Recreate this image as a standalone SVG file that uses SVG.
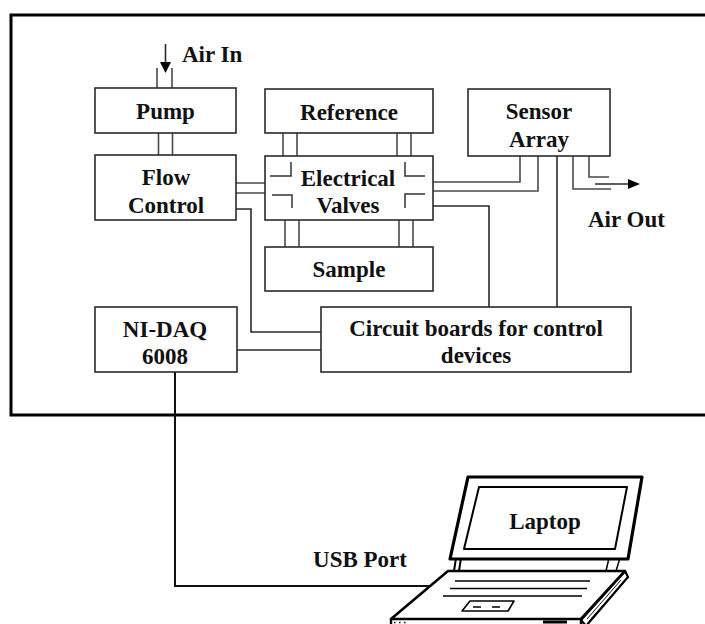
<svg xmlns="http://www.w3.org/2000/svg" width="705" height="624" viewBox="0 0 705 624">
  <style>
    .box { fill: #ffffff; stroke: #2a2a2a; stroke-width: 1.6; }
    .lbl { font-family: "Liberation Serif", "Times New Roman", serif; font-weight: bold; font-size: 23px; fill: #111111; text-anchor: middle; }
    .lbl-start { text-anchor: start; }
    .lbl-end { text-anchor: end; }
    .pipe { fill: none; stroke: #4a4a4a; stroke-width: 1.6; }
    .wire { fill: none; stroke: #2a2a2a; stroke-width: 1.6; }
    .mark { fill: none; stroke: #333333; stroke-width: 1.5; }
    .lap { fill: #ffffff; stroke: #000000; stroke-linejoin: round; }
  </style>

  <!-- enclosure outline (continues past the right edge) -->
  <rect id="enclosure" x="11" y="15" width="720" height="400" fill="none" stroke="#000000" stroke-width="3"/>

  <!-- pipes and signal wires -->
  <g id="connectors">
    <!-- air inlet -->
    <line class="wire" x1="165.5" y1="44" x2="165.5" y2="63"/>
    <polygon points="160,62 171,62 165.5,73" fill="#000000"/>
    <path class="pipe" d="M157,68 V88 M172,68 V88"/>
    <!-- pump to flow control -->
    <path class="pipe" d="M158.5,133 V155 M172.5,133 V155"/>
    <!-- flow control to valves -->
    <path class="pipe" d="M236,183 H265 M236,193 H265"/>
    <!-- reference to valves -->
    <path class="pipe" d="M283,133 V156 M297,133 V156 M397,133 V156 M411,133 V156"/>
    <!-- valves to sample -->
    <path class="pipe" d="M285,220 V247 M299,220 V247 M399,220 V247 M413,220 V247"/>
    <!-- valves to sensor array -->
    <path class="pipe" d="M433,182 H520 V156 M433,191 H538 V156"/>
    <!-- sensor array outlet -->
    <path class="pipe" d="M573,156 V189 H611 M589,156 V177 H609"/>
    <line class="wire" x1="595" y1="184" x2="629" y2="184"/>
    <polygon points="628,179 628,189 640,184" fill="#000000"/>
    <!-- control wiring -->
    <path class="wire" d="M236,209 H251 V332 H321"/>
    <path class="wire" d="M433,206 H489 V307"/>
    <path class="wire" d="M557,156 V307"/>
    <path class="wire" d="M237,350 H321"/>
    <!-- USB cable -->
    <path d="M175,372 V586 H430" fill="none" stroke="#111111" stroke-width="2"/>
  </g>

  <g id="pump">
    <rect class="box" x="95" y="88" width="141" height="45"/>
    <text class="lbl" x="165.5" y="119">Pump</text>
  </g>

  <g id="flow-control">
    <rect class="box" x="95" y="155" width="141" height="65"/>
    <text class="lbl" x="166" y="185">Flow</text>
    <text class="lbl" x="166" y="213">Control</text>
  </g>

  <g id="reference">
    <rect class="box" x="265" y="89" width="168" height="44"/>
    <text class="lbl" x="349" y="120">Reference</text>
  </g>

  <g id="electrical-valves">
    <rect class="box" x="265" y="156" width="168" height="64"/>
    <path class="mark" d="M270,176 H291 V162 M272,195 H292 V208 M405,162 V176 H425 M425,194 H405 V208"/>
    <text class="lbl" x="348" y="186">Electrical</text>
    <text class="lbl" x="348" y="213">Valves</text>
  </g>

  <g id="sample">
    <rect class="box" x="265" y="247" width="168" height="44"/>
    <text class="lbl" x="349" y="277">Sample</text>
  </g>

  <g id="sensor-array">
    <rect class="box" x="468" y="89" width="142" height="67"/>
    <text class="lbl" x="539" y="119">Sensor</text>
    <text class="lbl" x="539" y="147">Array</text>
  </g>

  <g id="ni-daq">
    <rect class="box" x="95" y="307" width="142" height="65"/>
    <text class="lbl" x="165" y="337">NI-DAQ</text>
    <text class="lbl" x="165" y="364">6008</text>
  </g>

  <g id="circuit-boards">
    <rect class="box" x="321" y="307" width="310" height="65"/>
    <text class="lbl" x="476" y="336">Circuit boards for control</text>
    <text class="lbl" x="476" y="363">devices</text>
  </g>

  <g id="labels">
    <text class="lbl lbl-start" x="182" y="62">Air In</text>
    <text class="lbl lbl-start" x="588" y="227">Air Out</text>
    <text class="lbl lbl-end" x="407" y="567">USB Port</text>
  </g>

  <g id="laptop">
    <!-- hinges -->
    <path d="M456,558 L454,571 M461,558 L459,571" stroke="#000" stroke-width="2" fill="none"/>
    <path class="lap" stroke-width="1.5" d="M609,558 L606,571 L616,571 L620,558 Z"/>
    <!-- screen lid -->
    <polygon class="lap" stroke-width="3.2" points="468,477 642,477 628,559 450,559"/>
    <polygon class="lap" stroke-width="2" points="479,487 627,487 615,549 464,549"/>
    <text class="lbl" x="545" y="529">Laptop</text>
    <!-- base: side face, top surface, front face -->
    <polygon class="lap" stroke-width="2.2" points="625,571 628,577 586,626 581,620"/>
    <path d="M621,580 L587,619 M624,582 L589,621" stroke="#000" stroke-width="0.9" fill="none"/>
    <polygon class="lap" stroke-width="2.6" points="448,571 625,571 581,619 391,619"/>
    <path d="M391,619 V626 M581,620 V626" stroke="#000" stroke-width="2.4" fill="none"/>
    <!-- keyboard rows -->
    <path d="M455,581 H590 M450,588.5 H587 M443,596 H582" stroke="#000" stroke-width="1.6" fill="none"/>
    <!-- touchpad -->
    <polygon class="lap" stroke-width="1.6" points="470,601 514,601 508,611 462,611"/>
    <path d="M473,607 H481 M492,607 H500" stroke="#000" stroke-width="1.4" fill="none"/>
    <!-- front details -->
    <path d="M394,622.5 h1.5 M399,622.5 h1.5 M404,622.5 h1.5" stroke="#000" stroke-width="1.4" fill="none"/>
    <path d="M543,622 H567" stroke="#000" stroke-width="3" fill="none"/>
  </g>
</svg>
